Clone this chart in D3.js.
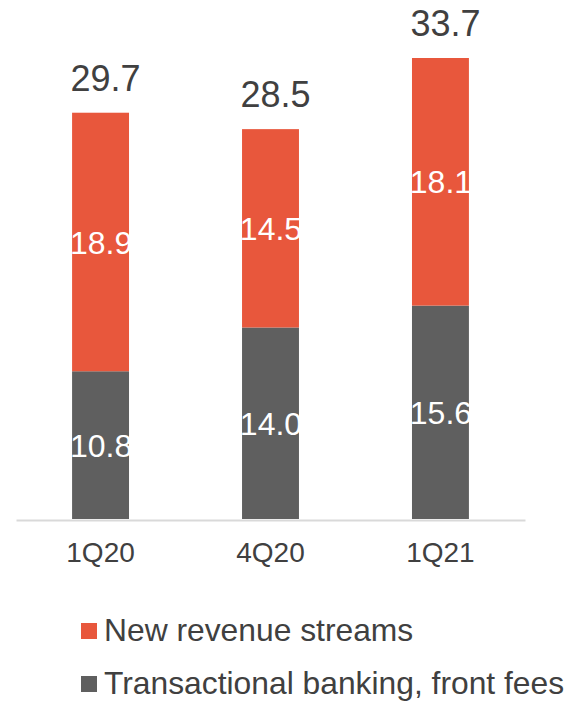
<!DOCTYPE html>
<html>
<head>
<meta charset="utf-8">
<script src="https://cdn.jsdelivr.net/npm/d3@7"></script>
<style>
  html, body { margin: 0; padding: 0; background: #fff; }
  svg { display: block; font-family: Arial, "Liberation Sans", sans-serif; }
</style>
</head>
<body>
<svg id="chart" width="572" height="703"></svg>
<script>
// Quarterly revenue split (stacked), with totals above each column
const categories = ["1Q20", "4Q20", "1Q21"];
const transactional = [10.8, 14.0, 15.6];
const newRevenue = [18.9, 14.5, 18.1];
const totals = [29.7, 28.5, 33.7];
const seriesNames = ["New revenue streams", "Transactional banking, front fees"];

const colors = { newRev: "#E8573C", trans: "#5F5F5F" };
const textColor = "#404040";

const svg = d3.select("#chart");

const x = d3.scaleBand()
  .domain(categories)
  .range([16, 525])
  .paddingInner(0.665)
  .paddingOuter(0.33);

const y = d3.scaleLinear()
  .domain([0, 37.94])
  .range([519, 0]);

const rows = categories.map((c, i) => ({
  cat: c, trans: transactional[i], newRev: newRevenue[i], total: totals[i]
}));

const stack = d3.stack().keys(["trans", "newRev"]);
const layers = stack(rows);

const g = svg.append("g");

g.selectAll("g.layer")
  .data(layers)
  .join("g")
  .attr("class", "layer")
  .attr("fill", d => colors[d.key])
  .selectAll("rect")
  .data(d => d)
  .join("rect")
  .attr("x", d => x(d.data.cat))
  .attr("width", x.bandwidth())
  .attr("y", d => y(d[1]))
  .attr("height", d => y(d[0]) - y(d[1]));

// Segment value labels
layers.forEach(layer => {
  g.selectAll(null)
    .data(layer)
    .join("text")
    .attr("x", d => x(d.data.cat) + x.bandwidth() / 2 + 0.5)
    .attr("y", d => (y(d[0]) + y(d[1])) / 2)
    .attr("dy", "0.36em")
    .attr("text-anchor", "middle")
    .attr("fill", "#ffffff")
    .attr("font-size", 32)
    .text(d => d.data[layer.key].toFixed(1));
});

// Totals above columns
g.selectAll("text.total")
  .data(rows)
  .join("text")
  .attr("class", "total")
  .attr("x", d => x(d.cat) + x.bandwidth() / 2 + 5)
  .attr("y", d => y(d.total) - 22)
  .attr("text-anchor", "middle")
  .attr("fill", textColor)
  .attr("font-size", 36)
  .text(d => d.total.toFixed(1));

// Category axis
const axis = svg.append("g")
  .attr("transform", "translate(0,520)")
  .call(d3.axisBottom(x).tickSize(0).tickPadding(22));
axis.select(".domain").attr("stroke", "#D9D9D9").attr("stroke-width", 2);
axis.selectAll("text")
  .attr("fill", textColor)
  .attr("font-size", 28)
  .attr("font-family", "Arial, 'Liberation Sans', sans-serif");

// Legend
const legend = svg.append("g").attr("transform", "translate(81,0)");
const legendItems = [
  { name: seriesNames[0], color: colors.newRev, y: 623 },
  { name: seriesNames[1], color: colors.trans, y: 676 }
];
const li = legend.selectAll("g")
  .data(legendItems)
  .join("g")
  .attr("transform", d => `translate(0,${d.y})`);
li.append("rect")
  .attr("width", 16)
  .attr("height", 16)
  .attr("fill", d => d.color);
li.append("text")
  .attr("x", 23)
  .attr("y", 18)
  .attr("fill", textColor)
  .attr("font-size", 31.8)
  .text(d => d.name);
</script>
</body>
</html>
